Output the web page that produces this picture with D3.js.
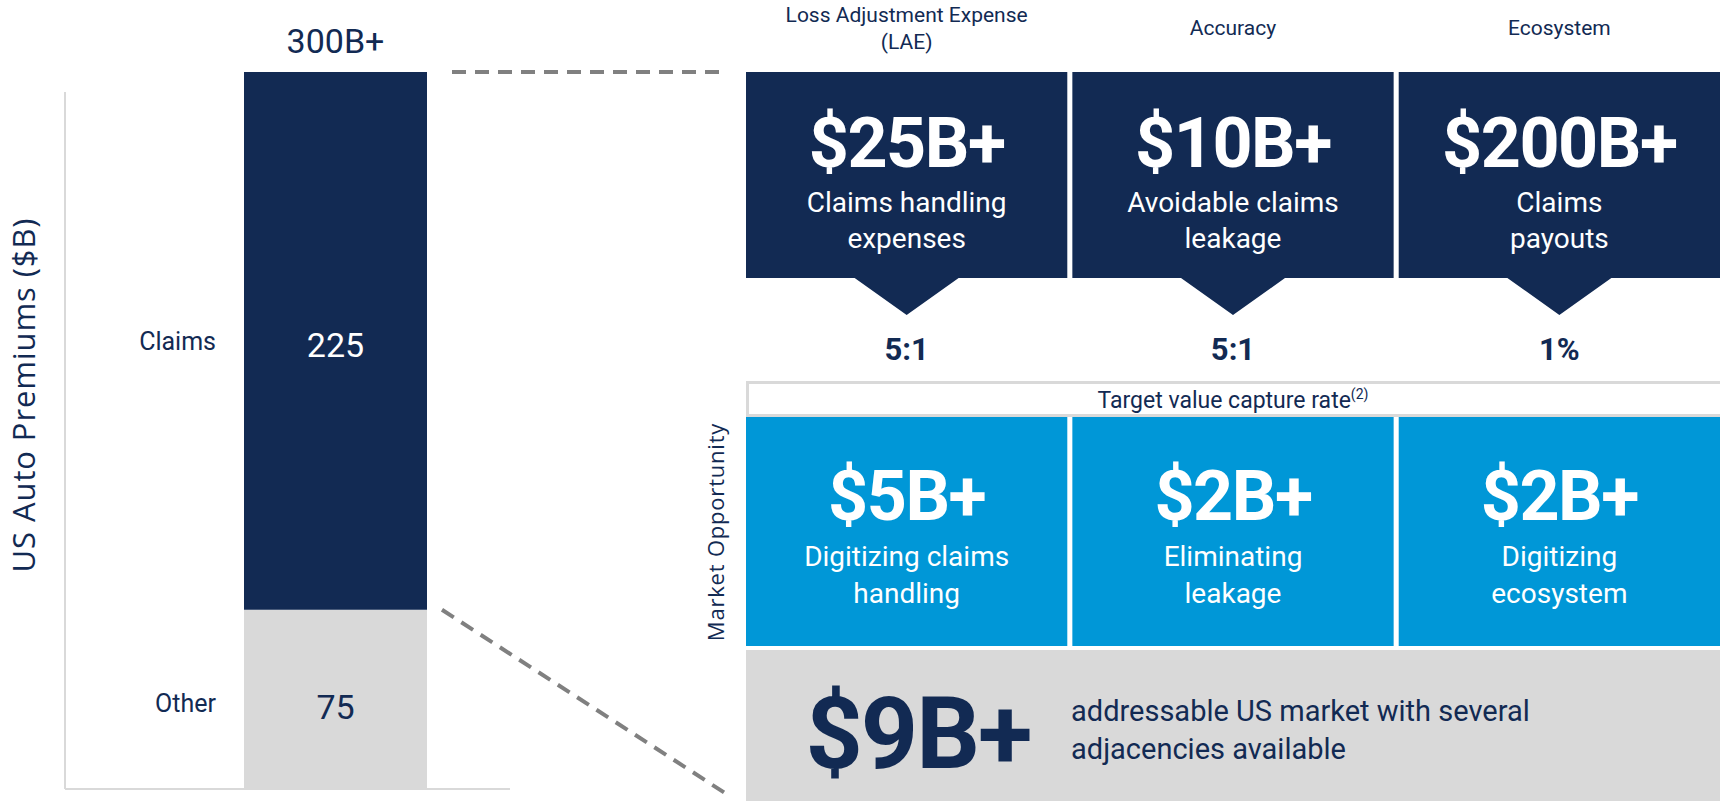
<!DOCTYPE html>
<html>
<head>
<meta charset="utf-8">
<script src="https://cdn.jsdelivr.net/npm/d3@7"></script>
<style>
  html, body { margin: 0; padding: 0; background: #fff; }
  svg { display: block; }
  text { font-family: Roboto, "Liberation Sans", sans-serif; }
</style>
</head>
<body>
<svg id="chart" width="1720" height="801"></svg>
<script>
// ---------- data ----------
const segments = ["Other", "Claims"];
const segmentValues = [75, 225];
const totalLabel = "300B+";
const yAxisTitle = "US Auto Premiums ($B)";

const columnHeaders = [["Loss Adjustment Expense", "(LAE)"], ["Accuracy"], ["Ecosystem"]];
const poolAmounts = ["$25B+", "$10B+", "$200B+"];
const poolDescriptions = [["Claims handling", "expenses"], ["Avoidable claims", "leakage"], ["Claims", "payouts"]];
const captureRates = ["5:1", "5:1", "1%"];
const captureTitle = "Target value capture rate";
const opportunityAmounts = ["$5B+", "$2B+", "$2B+"];
const opportunityDescriptions = [["Digitizing claims", "handling"], ["Eliminating", "leakage"], ["Digitizing", "ecosystem"]];
const totalOpportunity = "$9B+";
const totalOpportunityText = ["addressable US market with several", "adjacencies available"];
const opportunityTitle = "Market Opportunity";

// ---------- style ----------
const NAVY = "#122a53", BLUE = "#0097d7", GRAY = "#d9d9d9", DASH = "#808080";

const svg = d3.select("#chart");

// ---------- left stacked bar ----------
const y = d3.scaleLinear().domain([0, d3.sum(segmentValues)]).range([789, 72]);
const xBar = d3.scaleBand().domain(["US"]).range([244, 427]).padding(0);
const barX = xBar("US"), barW = xBar.bandwidth();

// axis lines
svg.append("line").attr("x1", 65).attr("x2", 65).attr("y1", 92).attr("y2", y(0))
  .attr("stroke", GRAY).attr("stroke-width", 2);
svg.append("line").attr("x1", 65).attr("x2", 510).attr("y1", y(0)).attr("y2", y(0))
  .attr("stroke", GRAY).attr("stroke-width", 2);

let cum = 0;
const stacked = segments.map((s, i) => {
  const d = { name: s, value: segmentValues[i], y0: cum, y1: cum + segmentValues[i] };
  cum += segmentValues[i];
  return d;
});
const segFill = { Other: GRAY, Claims: NAVY };
const segText = { Other: NAVY, Claims: "#ffffff" };

svg.selectAll("rect.seg").data(stacked).join("rect")
  .attr("class", "seg")
  .attr("x", barX).attr("width", barW)
  .attr("y", d => y(d.y1)).attr("height", d => y(d.y0) - y(d.y1))
  .attr("fill", d => segFill[d.name]);

const labelY = { Other: 712, Claims: 350 };
svg.selectAll("text.seglab").data(stacked).join("text")
  .attr("class", "seglab")
  .attr("x", barX - 28).attr("y", d => labelY[d.name])
  .attr("text-anchor", "end").attr("font-size", 25).attr("fill", NAVY)
  .text(d => d.name);

svg.selectAll("text.segval").data(stacked).join("text")
  .attr("class", "segval")
  .attr("x", barX + barW / 2).attr("y", d => labelY[d.name] + 7)
  .attr("text-anchor", "middle").attr("font-size", 34).attr("fill", d => segText[d.name])
  .text(d => d.value);

svg.append("text").attr("x", barX + barW / 2).attr("y", 53)
  .attr("text-anchor", "middle").attr("font-size", 34).attr("fill", NAVY)
  .text(totalLabel);

svg.append("text")
  .attr("transform", "translate(35,395) rotate(-90)")
  .attr("text-anchor", "middle").attr("font-size", 31).attr("fill", NAVY)
  .attr("letter-spacing", 0.9)
  .style("font-family", "'Open Sans', sans-serif").attr("font-weight", 400)
  .text(yAxisTitle);

// dashed connectors
svg.append("line").attr("x1", 452).attr("x2", 722).attr("y1", y(300)).attr("y2", y(300))
  .attr("stroke", DASH).attr("stroke-width", 4).attr("stroke-dasharray", "14,9");
svg.append("line").attr("x1", 442).attr("y1", y(75)).attr("x2", 728).attr("y2", 795)
  .attr("stroke", DASH).attr("stroke-width", 4).attr("stroke-dasharray", "14,9");

// ---------- right panel ----------
const cols = d3.scaleBand().domain(d3.range(3)).range([746, 1720]).paddingInner(0.0155).paddingOuter(0);
const bw = cols.bandwidth();
const cx = i => cols(i) + bw / 2;

// headers
columnHeaders.forEach((lines, i) => {
  const t = svg.append("text").attr("text-anchor", "middle").attr("font-size", 21).attr("fill", NAVY);
  const base = lines.length === 2 ? 22 : 35;
  lines.forEach((l, j) => t.append("tspan").attr("x", cx(i)).attr("y", base + j * 27).text(l));
});

// navy boxes with pointer
const topY = 72, topB = 278, tipY = 315, halfTri = 52;
svg.selectAll("path.pool").data(d3.range(3)).join("path")
  .attr("class", "pool")
  .attr("d", i => {
    const x0 = cols(i), x1 = x0 + bw, c = cx(i);
    return `M${x0},${topY}H${x1}V${topB}H${c + halfTri}L${c},${tipY}L${c - halfTri},${topB}H${x0}Z`;
  })
  .attr("fill", NAVY);

svg.selectAll("text.poolamt").data(poolAmounts).join("text")
  .attr("class", "poolamt")
  .attr("x", (d, i) => cx(i)).attr("y", 167)
  .attr("text-anchor", "middle").attr("font-size", 70).attr("font-weight", 700)
  .attr("letter-spacing", -1.5).attr("fill", "#fff").text(d => d);

poolDescriptions.forEach((lines, i) => {
  const t = svg.append("text").attr("text-anchor", "middle").attr("font-size", 28).attr("fill", "#fff");
  lines.forEach((l, j) => t.append("tspan").attr("x", cx(i)).attr("y", 212 + j * 36).text(l));
});

svg.selectAll("text.rate").data(captureRates).join("text")
  .attr("class", "rate")
  .attr("x", (d, i) => cx(i)).attr("y", 360)
  .attr("text-anchor", "middle").attr("font-size", 31).attr("font-weight", 700)
  .attr("fill", NAVY).text(d => d);

// capture rate box
svg.append("rect").attr("x", 747.5).attr("y", 382.5).attr("width", 1720 - 746).attr("height", 33)
  .attr("fill", "#fff").attr("stroke", GRAY).attr("stroke-width", 3);
const ct = svg.append("text").attr("x", (746 + 1720) / 2).attr("y", 408)
  .attr("text-anchor", "middle").attr("font-size", 23).attr("fill", NAVY);
ct.append("tspan").text(captureTitle);
ct.append("tspan").attr("font-size", 14).attr("dy", -9).text("(2)");

// blue opportunity boxes
svg.selectAll("rect.opp").data(d3.range(3)).join("rect")
  .attr("class", "opp")
  .attr("x", i => cols(i)).attr("width", bw)
  .attr("y", 417).attr("height", 646 - 417).attr("fill", BLUE);

svg.selectAll("text.oppamt").data(opportunityAmounts).join("text")
  .attr("class", "oppamt")
  .attr("x", (d, i) => cx(i)).attr("y", 520)
  .attr("text-anchor", "middle").attr("font-size", 70).attr("font-weight", 700)
  .attr("letter-spacing", -1.5).attr("fill", "#fff").text(d => d);

opportunityDescriptions.forEach((lines, i) => {
  const t = svg.append("text").attr("text-anchor", "middle").attr("font-size", 28).attr("fill", "#fff");
  lines.forEach((l, j) => t.append("tspan").attr("x", cx(i)).attr("y", 566 + j * 37).text(l));
});

// gray total box
svg.append("rect").attr("x", 746).attr("y", 650).attr("width", 1720 - 746).attr("height", 801 - 650)
  .attr("fill", GRAY);
svg.append("text").attr("x", 918).attr("y", 768)
  .attr("text-anchor", "middle").attr("font-size", 100).attr("font-weight", 700)
  .attr("letter-spacing", -2).attr("fill", NAVY).text(totalOpportunity);
const tt = svg.append("text").attr("font-size", 29).attr("fill", NAVY);
totalOpportunityText.forEach((l, j) => tt.append("tspan").attr("x", 1071).attr("y", 721 + j * 38).text(l));

svg.append("text")
  .attr("transform", "translate(724,532) rotate(-90)")
  .attr("text-anchor", "middle").attr("font-size", 22).attr("fill", NAVY)
  .style("font-family", "'Open Sans', sans-serif").attr("letter-spacing", 0.8)
  .text(opportunityTitle);
</script>
</body>
</html>
